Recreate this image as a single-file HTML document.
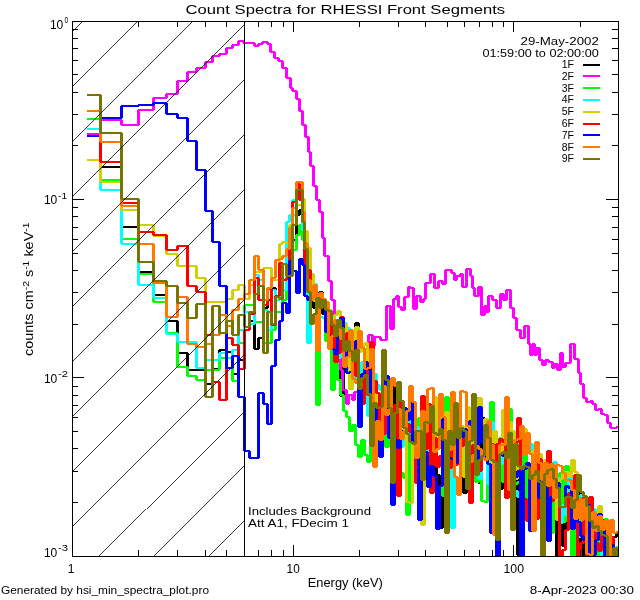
<!DOCTYPE html>
<html><head><meta charset="utf-8"><title>Count Spectra for RHESSI Front Segments</title>
<style>html,body{margin:0;padding:0;background:#fff;width:640px;height:600px;overflow:hidden}svg{display:block}</style>
</head><body><svg width="640" height="600" viewBox="0 0 640 600"><defs><clipPath id="clip"><rect x="72" y="21" width="547" height="536"/></clipPath></defs><g clip-path="url(#clip)" shape-rendering="crispEdges"><path fill="#000000" d="M87 118h14v2h-14zM99 119h3v48h-3zM100 166h22v2h-22zM120 167h3v60h-3zM121 226h18v2h-18zM137 227h3v45h-3zM138 271h16v2h-16zM152 272h3v23h-3zM153 294h14v2h-14zM165 295h3v26h-3zM166 320h12v2h-12zM176 321h3v32h-3zM177 352h11v2h-11zM186 353h3v17h-3zM187 369h10v2h-10zM196 369h10v2h-10zM204 370h3v14h-3zM205 383h8v2h-8zM211 369h3v15h-3zM212 368h8v2h-8zM218 350h3v19h-3zM219 349h8v2h-8zM225 350h3v2h-3zM226 351h7v2h-7zM231 352h3v22h-3zM232 373h7v2h-7zM237 360h3v14h-3zM238 359h7v2h-7zM243 327h3v33h-3zM244 326h6v2h-6zM248 321h3v6h-3zM249 320h6v2h-6zM253 321h3v28h-3zM254 348h5v2h-5zM257 338h3v11h-3zM258 337h6v2h-6zM262 308h3v30h-3zM263 307h5v2h-5zM266 300h3v8h-3zM267 299h5v2h-5zM270 288h3v12h-3zM271 287h5v2h-5zM274 288h3v12h-3zM275 299h5v2h-5zM278 290h3v10h-3zM279 289h4v2h-4zM281 280h3v10h-3zM282 279h5v2h-5zM285 270h3v10h-3zM286 269h4v2h-4zM288 253h3v17h-3zM289 252h4v2h-4zM291 240h3v13h-3zM292 239h5v2h-5zM295 215h3v25h-3zM296 214h4v2h-4zM298 210h3v5h-3zM299 209h4v2h-4zM301 210h3v26h-3zM302 235h3v2h-3zM303 236h3v14h-3zM304 249h4v2h-4zM306 250h3v20h-3zM307 269h4v2h-4zM309 270h3v20h-3zM310 289h4v2h-4zM312 290h3v18h-3zM313 307h4v2h-4zM315 308h3v16h-3zM316 323h4v2h-4zM318 292h3v32h-3zM319 291h4v2h-4zM321 292h3v22h-3zM322 313h4v2h-4zM324 314h3v13h-3zM325 326h4v2h-4zM327 327h3v7h-3zM328 333h4v2h-4zM330 334h3v2h-3zM331 335h4v2h-4zM333 336h3v3h-3zM334 338h4v2h-4zM336 339h3v13h-3zM337 351h4v2h-4zM339 352h3v44h-3zM340 395h4v2h-4zM342 326h3v70h-3zM343 325h4v2h-4zM345 326h3v3h-3zM346 328h4v2h-4zM348 329h3v50h-3zM349 378h4v2h-4zM351 374h3v5h-3zM352 373h4v2h-4zM354 323h3v51h-3zM355 322h4v2h-4zM357 323h3v72h-3zM358 394h4v2h-4zM360 384h3v11h-3zM361 383h4v2h-4zM363 384h3v8h-3zM364 391h4v2h-4zM366 383h3v9h-3zM367 382h4v2h-4zM369 383h3v1h-3zM370 383h4v2h-4zM372 384h3v32h-3zM373 415h4v2h-4zM375 416h3v6h-3zM376 421h4v2h-4zM378 422h3v13h-3zM379 434h4v2h-4zM381 406h3v29h-3zM382 405h4v2h-4zM385 405h4v2h-4zM387 391h3v15h-3zM388 390h4v2h-4zM390 384h3v7h-3zM391 383h4v2h-4zM393 384h3v39h-3zM394 422h4v2h-4zM396 417h3v6h-3zM397 416h4v2h-4zM399 417h3v22h-3zM400 438h4v2h-4zM402 425h3v14h-3zM403 424h4v2h-4zM405 415h3v10h-3zM406 414h4v2h-4zM408 415h3v26h-3zM409 440h4v2h-4zM411 412h3v29h-3zM412 411h4v2h-4zM414 412h3v34h-3zM415 445h4v2h-4zM417 445h3v1h-3zM418 444h4v2h-4zM420 425h3v20h-3zM421 424h4v2h-4zM423 425h3v5h-3zM424 429h4v2h-4zM426 430h3v54h-3zM427 483h4v2h-4zM429 445h3v39h-3zM430 444h4v2h-4zM432 445h3v4h-3zM433 448h4v2h-4zM435 449h3v26h-3zM436 474h4v2h-4zM438 475h3v53h-3zM439 527h4v2h-4zM441 451h3v77h-3zM442 450h4v2h-4zM444 451h3v69h-3zM445 519h4v2h-4zM447 520h3v1h-3zM448 520h4v2h-4zM450 447h3v74h-3zM451 446h4v2h-4zM453 407h3v40h-3zM454 406h4v2h-4zM456 407h3v31h-3zM457 437h4v2h-4zM459 438h3v15h-3zM460 452h4v2h-4zM462 453h3v40h-3zM463 492h4v2h-4zM465 480h3v13h-3zM466 479h4v2h-4zM468 440h3v40h-3zM469 439h4v2h-4zM471 440h3v37h-3zM472 476h4v2h-4zM474 453h3v24h-3zM475 452h4v2h-4zM477 453h3v30h-3zM478 482h4v2h-4zM480 418h3v65h-3zM481 417h4v2h-4zM483 418h3v14h-3zM484 431h4v2h-4zM486 432h3v32h-3zM487 463h4v2h-4zM489 445h3v19h-3zM490 444h4v2h-4zM492 445h3v2h-3zM493 446h4v2h-4zM495 447h3v18h-3zM496 464h4v2h-4zM498 465h3v24h-3zM499 488h4v2h-4zM501 479h3v10h-3zM502 478h4v2h-4zM504 456h3v23h-3zM505 455h4v2h-4zM507 456h3v10h-3zM508 465h4v2h-4zM510 452h3v14h-3zM511 451h4v2h-4zM513 452h3v12h-3zM514 463h4v2h-4zM516 464h3v91h-3zM517 554h4v2h-4zM519 483h3v72h-3zM520 482h4v2h-4zM522 483h3v4h-3zM523 486h4v2h-4zM525 487h3v16h-3zM526 502h4v2h-4zM528 503h3v4h-3zM529 506h4v2h-4zM531 507h3v8h-3zM532 514h4v2h-4zM534 477h3v38h-3zM535 476h4v2h-4zM537 461h3v16h-3zM538 460h4v2h-4zM540 461h3v34h-3zM541 494h4v2h-4zM543 467h3v28h-3zM544 466h4v2h-4zM546 467h3v1h-3zM547 467h4v2h-4zM549 468h3v44h-3zM550 511h4v2h-4zM552 512h3v6h-3zM553 517h4v2h-4zM555 518h3v38h-3zM556 555h4v2h-4zM558 489h3v67h-3zM559 488h4v2h-4zM561 489h3v57h-3zM562 545h4v2h-4zM564 511h3v35h-3zM565 510h4v2h-4zM567 469h3v42h-3zM568 468h4v2h-4zM570 469h3v81h-3zM571 549h4v2h-4zM573 528h3v22h-3zM574 527h4v2h-4zM576 490h3v38h-3zM577 489h4v2h-4zM579 490h3v70h-3zM580 559h4v2h-4zM582 506h3v54h-3zM583 505h4v2h-4zM585 506h3v18h-3zM586 523h4v2h-4zM588 519h3v5h-3zM589 518h4v2h-4zM591 519h3v41h-3zM592 559h4v2h-4zM594 528h3v32h-3zM595 527h4v2h-4zM597 528h3v32h-3zM598 559h4v2h-4zM600 550h3v10h-3zM601 549h4v2h-4zM603 545h3v5h-3zM604 544h4v2h-4zM606 545h3v15h-3zM607 559h4v2h-4zM609 554h3v6h-3zM610 553h4v2h-4zM612 537h3v17h-3zM613 536h4v2h-4zM615 533h3v4h-3zM616 532h2v2h-2z"/><path fill="#ff00ff" d="M87 133h14v2h-14zM99 120h3v14h-3zM100 119h22v2h-22zM120 120h3v5h-3zM121 124h18v2h-18zM137 110h3v15h-3zM138 109h16v2h-16zM152 98h3v12h-3zM153 97h14v2h-14zM165 94h3v4h-3zM166 93h12v2h-12zM176 81h3v13h-3zM177 80h11v2h-11zM186 72h3v9h-3zM187 71h10v2h-10zM195 68h3v4h-3zM196 67h10v2h-10zM204 62h3v6h-3zM205 61h8v2h-8zM211 56h3v6h-3zM212 55h8v2h-8zM218 54h3v2h-3zM219 53h8v2h-8zM225 48h3v6h-3zM226 47h7v2h-7zM231 45h3v3h-3zM232 44h7v2h-7zM237 41h3v4h-3zM238 40h6v2h-6zM242 41h3v2h-3zM243 42h12v2h-12zM253 43h3v3h-3zM254 45h5v2h-5zM257 44h3v2h-3zM258 43h5v2h-5zM261 42h3v2h-3zM262 41h6v2h-6zM266 42h3v2h-3zM267 43h4v2h-4zM269 44h3v8h-3zM270 51h5v2h-5zM273 52h3v6h-3zM274 57h5v2h-5zM277 58h3v3h-3zM278 60h5v2h-5zM281 61h3v7h-3zM282 67h5v2h-5zM285 68h3v10h-3zM286 77h5v2h-5zM289 78h3v10h-3zM290 87h3v2h-3zM291 88h3v3h-3zM292 90h5v2h-5zM295 91h3v8h-3zM296 98h4v2h-4zM298 99h3v12h-3zM299 110h4v2h-4zM301 111h3v14h-3zM302 124h4v2h-4zM304 125h3v12h-3zM305 136h4v2h-4zM307 137h3v15h-3zM308 151h3v2h-3zM309 152h3v14h-3zM310 165h4v2h-4zM312 166h3v20h-3zM313 185h4v2h-4zM315 186h3v14h-3zM316 199h4v2h-4zM318 200h3v12h-3zM319 211h4v2h-4zM321 212h3v26h-3zM322 237h3v2h-3zM323 238h3v18h-3zM324 255h5v2h-5zM327 256h3v25h-3zM328 280h4v2h-4zM330 281h3v19h-3zM331 299h4v2h-4zM333 300h3v20h-3zM334 319h3v2h-3zM335 320h3v25h-3zM336 344h5v2h-5zM339 345h3v25h-3zM340 369h3v2h-3zM341 370h3v20h-3zM342 389h5v2h-5zM345 390h3v14h-3zM346 403h3v2h-3zM347 395h3v9h-3zM348 394h5v2h-5zM351 395h3v5h-3zM352 399h3v2h-3zM353 392h3v8h-3zM354 391h5v2h-5zM357 392h3v6h-3zM358 397h3v2h-3zM359 380h3v18h-3zM360 379h4v2h-4zM362 365h3v15h-3zM363 364h4v2h-4zM365 349h3v16h-3zM366 348h3v2h-3zM367 335h3v14h-3zM368 334h5v2h-5zM371 335h3v11h-3zM372 345h3v2h-3zM373 337h3v9h-3zM374 336h7v2h-7zM379 337h3v3h-3zM380 339h7v2h-7zM385 306h3v34h-3zM386 305h5v2h-5zM389 306h3v23h-3zM390 328h4v2h-4zM392 299h3v30h-3zM393 298h4v2h-4zM395 296h3v3h-3zM396 295h3v2h-3zM397 296h3v11h-3zM398 306h4v2h-4zM400 307h3v3h-3zM401 309h4v2h-4zM403 297h3v13h-3zM404 296h5v2h-5zM407 287h3v10h-3zM408 286h3v2h-3zM409 287h3v1h-3zM410 287h4v2h-4zM412 288h3v21h-3zM413 308h4v2h-4zM415 296h3v13h-3zM416 295h5v2h-5zM419 296h3v6h-3zM420 301h4v2h-4zM422 299h3v3h-3zM423 298h3v2h-3zM424 283h3v16h-3zM425 282h6v2h-6zM429 274h3v9h-3zM430 273h5v2h-5zM433 274h3v14h-3zM434 287h5v2h-5zM437 281h3v7h-3zM438 280h5v2h-5zM441 281h3v3h-3zM442 283h4v2h-4zM444 270h3v14h-3zM445 269h7v2h-7zM450 270h3v3h-3zM451 272h4v2h-4zM453 273h3v7h-3zM454 279h3v2h-3zM455 276h3v4h-3zM456 275h5v2h-5zM459 274h3v2h-3zM460 273h3v2h-3zM461 274h3v13h-3zM462 286h5v2h-5zM465 269h3v18h-3zM466 268h5v2h-5zM469 269h3v7h-3zM470 275h3v2h-3zM471 276h3v12h-3zM472 287h3v2h-3zM473 288h3v8h-3zM474 295h5v2h-5zM477 287h3v9h-3zM478 286h4v2h-4zM480 287h3v28h-3zM481 314h4v2h-4zM483 306h3v9h-3zM484 305h3v2h-3zM485 306h3v6h-3zM486 311h3v2h-3zM487 296h3v16h-3zM488 295h5v2h-5zM491 296h3v4h-3zM492 299h5v2h-5zM495 300h3v8h-3zM496 307h5v2h-5zM499 294h3v14h-3zM500 293h4v2h-4zM502 294h3v6h-3zM503 299h4v2h-4zM505 290h3v10h-3zM506 289h5v2h-5zM509 290h3v18h-3zM510 307h4v2h-4zM512 308h3v10h-3zM513 317h4v2h-4zM515 318h3v12h-3zM516 329h5v2h-5zM519 330h3v8h-3zM520 337h5v2h-5zM523 326h3v12h-3zM524 325h5v2h-5zM527 326h3v18h-3zM528 343h3v2h-3zM529 344h3v11h-3zM530 354h3v2h-3zM531 344h3v11h-3zM532 343h3v2h-3zM533 344h3v11h-3zM534 354h3v2h-3zM535 348h3v7h-3zM536 347h4v2h-4zM538 348h3v12h-3zM539 359h4v2h-4zM541 360h3v5h-3zM542 364h4v2h-4zM544 360h3v5h-3zM545 359h4v2h-4zM547 360h3v2h-3zM548 361h5v2h-5zM551 362h3v6h-3zM552 367h3v2h-3zM553 364h3v4h-3zM554 363h4v2h-4zM556 364h3v6h-3zM557 369h4v2h-4zM559 353h3v17h-3zM560 352h3v2h-3zM561 353h3v14h-3zM562 366h4v2h-4zM564 363h3v4h-3zM565 362h6v2h-6zM569 344h3v19h-3zM570 343h5v2h-5zM573 344h3v15h-3zM574 358h5v2h-5zM577 359h3v14h-3zM578 372h3v2h-3zM579 373h3v11h-3zM580 383h4v2h-4zM582 384h3v14h-3zM583 397h4v2h-4zM585 398h3v4h-3zM586 401h5v2h-5zM589 401h3v1h-3zM590 400h3v2h-3zM591 401h3v3h-3zM592 403h4v2h-4zM594 404h3v6h-3zM595 409h4v2h-4zM597 409h3v1h-3zM598 408h4v2h-4zM600 409h3v5h-3zM601 413h4v2h-4zM603 414h3v1h-3zM604 414h4v2h-4zM606 415h3v8h-3zM607 422h4v2h-4zM609 423h3v5h-3zM610 427h7v2h-7zM615 427h3v1h-3zM616 426h2v2h-2z"/><path fill="#00ff00" d="M87 118h14v2h-14zM99 119h3v61h-3zM100 179h22v2h-22zM120 180h3v59h-3zM121 238h18v2h-18zM137 239h3v35h-3zM138 273h16v2h-16zM152 274h3v28h-3zM153 301h14v2h-14zM165 302h3v31h-3zM166 332h12v2h-12zM176 333h3v34h-3zM177 366h11v2h-11zM186 367h3v9h-3zM187 375h10v2h-10zM195 376h3v4h-3zM196 379h10v2h-10zM204 370h3v10h-3zM205 369h8v2h-8zM212 369h8v2h-8zM218 358h3v12h-3zM219 357h8v2h-8zM225 358h3v10h-3zM226 367h7v2h-7zM231 368h3v13h-3zM232 380h7v2h-7zM237 343h3v38h-3zM238 342h7v2h-7zM243 305h3v38h-3zM244 304h6v2h-6zM249 304h6v2h-6zM253 305h3v17h-3zM254 321h5v2h-5zM258 321h6v2h-6zM262 322h3v21h-3zM263 342h5v2h-5zM267 342h5v2h-5zM270 330h3v13h-3zM271 329h5v2h-5zM274 312h3v18h-3zM275 311h5v2h-5zM279 311h4v2h-4zM281 300h3v12h-3zM282 299h5v2h-5zM285 290h3v10h-3zM286 289h4v2h-4zM288 270h3v20h-3zM289 269h4v2h-4zM291 250h3v20h-3zM292 249h5v2h-5zM295 235h3v15h-3zM296 234h4v2h-4zM298 225h3v10h-3zM299 224h4v2h-4zM301 225h3v15h-3zM302 239h3v2h-3zM303 240h3v20h-3zM304 259h4v2h-4zM306 260h3v20h-3zM307 279h4v2h-4zM309 280h3v20h-3zM310 299h4v2h-4zM312 287h3v13h-3zM313 286h4v2h-4zM315 287h3v118h-3zM316 404h4v2h-4zM318 298h3v107h-3zM319 297h4v2h-4zM321 298h3v8h-3zM322 305h4v2h-4zM324 306h3v35h-3zM325 340h4v2h-4zM327 328h3v13h-3zM328 327h4v2h-4zM330 328h3v62h-3zM331 389h4v2h-4zM333 326h3v64h-3zM334 325h4v2h-4zM336 326h3v54h-3zM337 379h4v2h-4zM339 380h3v15h-3zM340 394h4v2h-4zM342 395h3v16h-3zM343 410h4v2h-4zM345 411h3v6h-3zM346 416h4v2h-4zM348 417h3v14h-3zM349 430h4v2h-4zM351 425h3v6h-3zM352 424h4v2h-4zM354 425h3v20h-3zM355 444h4v2h-4zM357 445h3v12h-3zM358 456h4v2h-4zM360 440h3v17h-3zM361 439h4v2h-4zM363 440h3v15h-3zM364 454h4v2h-4zM366 455h3v7h-3zM367 461h4v2h-4zM369 403h3v59h-3zM370 402h4v2h-4zM372 382h3v21h-3zM373 381h4v2h-4zM375 382h3v33h-3zM376 414h4v2h-4zM378 415h3v23h-3zM379 437h4v2h-4zM381 392h3v46h-3zM382 391h4v2h-4zM384 392h3v55h-3zM385 446h4v2h-4zM387 418h3v29h-3zM388 417h4v2h-4zM390 418h3v52h-3zM391 469h4v2h-4zM393 417h3v53h-3zM394 416h4v2h-4zM396 417h3v19h-3zM397 435h4v2h-4zM399 436h3v37h-3zM400 472h4v2h-4zM402 473h3v5h-3zM403 477h4v2h-4zM405 478h3v37h-3zM406 514h4v2h-4zM408 425h3v90h-3zM409 424h4v2h-4zM411 425h3v17h-3zM412 441h4v2h-4zM414 442h3v1h-3zM415 442h4v2h-4zM417 418h3v25h-3zM418 417h4v2h-4zM420 416h3v2h-3zM421 415h4v2h-4zM423 416h3v65h-3zM424 480h4v2h-4zM426 450h3v31h-3zM427 449h4v2h-4zM429 434h3v16h-3zM430 433h4v2h-4zM432 415h3v19h-3zM433 414h4v2h-4zM435 415h3v24h-3zM436 438h4v2h-4zM438 421h3v18h-3zM439 420h4v2h-4zM441 421h3v75h-3zM442 495h4v2h-4zM444 397h3v99h-3zM445 396h4v2h-4zM447 397h3v52h-3zM448 448h4v2h-4zM450 415h3v34h-3zM451 414h4v2h-4zM453 415h3v15h-3zM454 429h4v2h-4zM456 410h3v20h-3zM457 409h4v2h-4zM459 410h3v49h-3zM460 458h4v2h-4zM462 459h3v18h-3zM463 476h4v2h-4zM465 435h3v42h-3zM466 434h4v2h-4zM468 435h3v10h-3zM469 444h4v2h-4zM471 445h3v3h-3zM472 447h4v2h-4zM474 448h3v34h-3zM475 481h4v2h-4zM477 468h3v14h-3zM478 467h4v2h-4zM480 468h3v33h-3zM481 500h4v2h-4zM483 501h3v1h-3zM484 501h4v2h-4zM486 432h3v70h-3zM487 431h4v2h-4zM489 402h3v30h-3zM490 401h4v2h-4zM492 402h3v34h-3zM493 435h4v2h-4zM495 436h3v10h-3zM496 445h4v2h-4zM498 438h3v8h-3zM499 437h4v2h-4zM501 438h3v44h-3zM502 481h4v2h-4zM504 467h3v15h-3zM505 466h4v2h-4zM507 409h3v58h-3zM508 408h4v2h-4zM510 409h3v52h-3zM511 460h4v2h-4zM513 461h3v23h-3zM514 483h4v2h-4zM516 482h3v2h-3zM517 481h4v2h-4zM519 482h3v76h-3zM520 557h4v2h-4zM522 455h3v103h-3zM523 454h4v2h-4zM525 455h3v57h-3zM526 511h4v2h-4zM528 492h3v20h-3zM529 491h4v2h-4zM531 492h3v7h-3zM532 498h4v2h-4zM534 468h3v31h-3zM535 467h4v2h-4zM537 468h3v19h-3zM538 486h4v2h-4zM540 487h3v14h-3zM541 500h4v2h-4zM543 501h3v27h-3zM544 527h4v2h-4zM546 487h3v41h-3zM547 486h4v2h-4zM549 487h3v46h-3zM550 532h4v2h-4zM552 492h3v41h-3zM553 491h4v2h-4zM555 492h3v15h-3zM556 506h4v2h-4zM558 473h3v34h-3zM559 472h4v2h-4zM561 473h3v49h-3zM562 521h4v2h-4zM564 466h3v56h-3zM565 465h4v2h-4zM567 466h3v63h-3zM568 528h4v2h-4zM570 529h3v30h-3zM571 558h4v2h-4zM573 480h3v79h-3zM574 479h4v2h-4zM576 480h3v35h-3zM577 514h4v2h-4zM579 497h3v18h-3zM580 496h4v2h-4zM582 497h3v8h-3zM583 504h4v2h-4zM585 505h3v14h-3zM586 518h4v2h-4zM588 497h3v22h-3zM589 496h4v2h-4zM591 497h3v48h-3zM592 544h4v2h-4zM594 545h3v15h-3zM595 559h4v2h-4zM597 524h3v36h-3zM598 523h4v2h-4zM600 524h3v36h-3zM601 559h4v2h-4zM603 519h3v41h-3zM604 518h4v2h-4zM606 519h3v15h-3zM607 533h4v2h-4zM609 534h3v26h-3zM610 559h4v2h-4zM613 559h4v2h-4zM615 547h3v13h-3zM616 546h2v2h-2z"/><path fill="#00ffff" d="M87 128h14v2h-14zM99 129h3v61h-3zM100 189h22v2h-22zM120 190h3v54h-3zM121 243h18v2h-18zM137 244h3v41h-3zM138 284h16v2h-16zM152 285h3v13h-3zM153 297h14v2h-14zM165 298h3v36h-3zM166 333h12v2h-12zM176 334h3v8h-3zM177 341h11v2h-11zM187 341h10v2h-10zM195 342h3v26h-3zM196 367h10v2h-10zM204 360h3v8h-3zM205 359h8v2h-8zM212 359h8v2h-8zM218 353h3v7h-3zM219 352h8v2h-8zM225 353h3v5h-3zM226 357h7v2h-7zM231 350h3v8h-3zM232 349h7v2h-7zM237 330h3v20h-3zM238 329h7v2h-7zM243 312h3v18h-3zM244 311h6v2h-6zM248 312h3v12h-3zM249 323h6v2h-6zM253 275h3v49h-3zM254 274h5v2h-5zM257 275h3v5h-3zM258 279h6v2h-6zM262 280h3v30h-3zM263 309h5v2h-5zM266 310h3v20h-3zM267 329h5v2h-5zM270 290h3v40h-3zM271 289h5v2h-5zM274 290h3v10h-3zM275 299h5v2h-5zM278 295h3v5h-3zM279 294h4v2h-4zM281 290h3v5h-3zM282 289h5v2h-5zM285 222h3v68h-3zM286 221h4v2h-4zM288 215h3v7h-3zM289 214h4v2h-4zM291 200h3v15h-3zM292 199h5v2h-5zM295 183h3v17h-3zM296 182h4v2h-4zM298 183h3v17h-3zM299 199h4v2h-4zM301 200h3v30h-3zM302 229h3v2h-3zM303 230h3v20h-3zM304 249h4v2h-4zM306 250h3v93h-3zM307 342h4v2h-4zM309 300h3v43h-3zM310 299h4v2h-4zM312 284h3v16h-3zM313 283h4v2h-4zM315 284h3v17h-3zM316 300h4v2h-4zM318 301h3v16h-3zM319 316h4v2h-4zM321 317h3v1h-3zM322 317h4v2h-4zM324 318h3v1h-3zM325 318h4v2h-4zM327 311h3v8h-3zM328 310h4v2h-4zM330 311h3v22h-3zM331 332h4v2h-4zM333 333h3v10h-3zM334 342h4v2h-4zM336 343h3v15h-3zM337 357h4v2h-4zM339 318h3v40h-3zM340 317h4v2h-4zM342 318h3v5h-3zM343 322h4v2h-4zM345 323h3v5h-3zM346 327h4v2h-4zM348 328h3v52h-3zM349 379h4v2h-4zM352 379h4v2h-4zM354 372h3v8h-3zM355 371h4v2h-4zM357 372h3v23h-3zM358 394h4v2h-4zM360 362h3v33h-3zM361 361h4v2h-4zM363 362h3v13h-3zM364 374h4v2h-4zM366 375h3v41h-3zM367 415h4v2h-4zM369 366h3v50h-3zM370 365h4v2h-4zM372 366h3v8h-3zM373 373h4v2h-4zM375 374h3v11h-3zM376 384h4v2h-4zM378 385h3v5h-3zM379 389h4v2h-4zM381 390h3v12h-3zM382 401h4v2h-4zM384 387h3v15h-3zM385 386h4v2h-4zM387 387h3v20h-3zM388 406h4v2h-4zM390 407h3v17h-3zM391 423h4v2h-4zM393 424h3v18h-3zM394 441h4v2h-4zM396 423h3v19h-3zM397 422h4v2h-4zM399 423h3v24h-3zM400 446h4v2h-4zM402 432h3v15h-3zM403 431h4v2h-4zM405 410h3v22h-3zM406 409h4v2h-4zM408 410h3v23h-3zM409 432h4v2h-4zM411 405h3v28h-3zM412 404h4v2h-4zM414 405h3v22h-3zM415 426h4v2h-4zM417 427h3v33h-3zM418 459h4v2h-4zM420 460h3v14h-3zM421 473h4v2h-4zM423 421h3v53h-3zM424 420h4v2h-4zM426 421h3v54h-3zM427 474h4v2h-4zM429 435h3v40h-3zM430 434h4v2h-4zM432 411h3v24h-3zM433 410h4v2h-4zM436 410h4v2h-4zM438 411h3v16h-3zM439 426h4v2h-4zM441 427h3v17h-3zM442 443h4v2h-4zM444 431h3v13h-3zM445 430h4v2h-4zM447 431h3v14h-3zM448 444h4v2h-4zM450 445h3v83h-3zM451 527h4v2h-4zM453 455h3v73h-3zM454 454h4v2h-4zM456 437h3v18h-3zM457 436h4v2h-4zM459 437h3v15h-3zM460 451h4v2h-4zM462 450h3v2h-3zM463 449h4v2h-4zM465 450h3v2h-3zM466 451h4v2h-4zM468 452h3v7h-3zM469 458h4v2h-4zM471 450h3v9h-3zM472 449h4v2h-4zM474 398h3v52h-3zM475 397h4v2h-4zM477 398h3v81h-3zM478 478h4v2h-4zM480 450h3v29h-3zM481 449h4v2h-4zM483 450h3v6h-3zM484 455h4v2h-4zM486 456h3v28h-3zM487 483h4v2h-4zM489 422h3v62h-3zM490 421h4v2h-4zM492 422h3v33h-3zM493 454h4v2h-4zM495 455h3v16h-3zM496 470h4v2h-4zM498 464h3v7h-3zM499 463h4v2h-4zM501 418h3v46h-3zM502 417h4v2h-4zM504 418h3v65h-3zM505 482h4v2h-4zM507 465h3v18h-3zM508 464h4v2h-4zM510 465h3v9h-3zM511 473h4v2h-4zM513 474h3v17h-3zM514 490h4v2h-4zM516 491h3v6h-3zM517 496h4v2h-4zM519 442h3v55h-3zM520 441h4v2h-4zM522 442h3v7h-3zM523 448h4v2h-4zM525 441h3v8h-3zM526 440h4v2h-4zM528 441h3v3h-3zM529 443h4v2h-4zM531 444h3v26h-3zM532 469h4v2h-4zM534 470h3v35h-3zM535 504h4v2h-4zM537 462h3v43h-3zM538 461h4v2h-4zM540 462h3v17h-3zM541 478h4v2h-4zM543 479h3v1h-3zM544 479h4v2h-4zM546 480h3v27h-3zM547 506h4v2h-4zM549 488h3v19h-3zM550 487h4v2h-4zM552 462h3v26h-3zM553 461h4v2h-4zM555 462h3v16h-3zM556 477h4v2h-4zM558 478h3v45h-3zM559 522h4v2h-4zM561 505h3v18h-3zM562 504h4v2h-4zM564 505h3v10h-3zM565 514h4v2h-4zM567 473h3v42h-3zM568 472h4v2h-4zM570 473h3v40h-3zM571 512h4v2h-4zM573 500h3v13h-3zM574 499h4v2h-4zM576 500h3v37h-3zM577 536h4v2h-4zM579 495h3v42h-3zM580 494h4v2h-4zM582 495h3v26h-3zM583 520h4v2h-4zM585 521h3v1h-3zM586 521h4v2h-4zM588 522h3v21h-3zM589 542h4v2h-4zM591 509h3v34h-3zM592 508h4v2h-4zM594 509h3v5h-3zM595 513h4v2h-4zM597 511h3v3h-3zM598 510h4v2h-4zM600 511h3v46h-3zM601 556h4v2h-4zM603 556h3v1h-3zM604 555h4v2h-4zM606 540h3v16h-3zM607 539h4v2h-4zM609 540h3v20h-3zM610 559h4v2h-4zM613 559h4v2h-4zM616 559h2v2h-2z"/><path fill="#d2d000" d="M87 159h14v2h-14zM99 160h3v22h-3zM100 181h22v2h-22zM120 182h3v28h-3zM121 209h18v2h-18zM137 210h3v15h-3zM138 224h16v2h-16zM152 225h3v11h-3zM153 235h14v2h-14zM165 236h3v18h-3zM166 253h12v2h-12zM176 254h3v12h-3zM177 265h11v2h-11zM187 265h10v2h-10zM195 266h3v12h-3zM196 277h10v2h-10zM204 278h3v24h-3zM205 301h8v2h-8zM212 301h8v2h-8zM219 301h8v2h-8zM225 299h3v3h-3zM226 298h7v2h-7zM231 290h3v9h-3zM232 289h7v2h-7zM237 285h3v5h-3zM238 284h7v2h-7zM243 285h3v14h-3zM244 298h6v2h-6zM248 285h3v14h-3zM249 284h6v2h-6zM253 272h3v13h-3zM254 271h5v2h-5zM258 271h6v2h-6zM262 268h3v4h-3zM263 267h5v2h-5zM267 267h5v2h-5zM270 268h3v12h-3zM271 279h5v2h-5zM275 279h5v2h-5zM278 244h3v36h-3zM279 243h4v2h-4zM281 242h3v2h-3zM282 241h5v2h-5zM285 242h3v1h-3zM286 242h4v2h-4zM288 225h3v18h-3zM289 224h4v2h-4zM291 215h3v10h-3zM292 214h5v2h-5zM295 205h3v10h-3zM296 204h4v2h-4zM299 204h4v2h-4zM301 199h3v6h-3zM302 198h3v2h-3zM303 199h3v32h-3zM304 230h4v2h-4zM306 231h3v17h-3zM307 247h4v2h-4zM309 248h3v26h-3zM310 273h4v2h-4zM312 274h3v27h-3zM313 300h4v2h-4zM315 301h3v5h-3zM316 305h4v2h-4zM318 306h3v1h-3zM319 306h4v2h-4zM321 304h3v3h-3zM322 303h4v2h-4zM324 304h3v11h-3zM325 314h4v2h-4zM327 310h3v5h-3zM328 309h4v2h-4zM330 310h3v18h-3zM331 327h4v2h-4zM333 315h3v13h-3zM334 314h4v2h-4zM336 311h3v4h-3zM337 310h4v2h-4zM339 311h3v11h-3zM340 321h4v2h-4zM342 322h3v2h-3zM343 323h4v2h-4zM345 324h3v12h-3zM346 335h4v2h-4zM348 336h3v53h-3zM349 388h4v2h-4zM351 353h3v36h-3zM352 352h4v2h-4zM354 327h3v26h-3zM355 326h4v2h-4zM357 327h3v25h-3zM358 351h4v2h-4zM360 346h3v6h-3zM361 345h4v2h-4zM363 343h3v3h-3zM364 342h4v2h-4zM366 343h3v22h-3zM367 364h4v2h-4zM369 360h3v5h-3zM370 359h4v2h-4zM372 360h3v59h-3zM373 418h4v2h-4zM375 394h3v25h-3zM376 393h4v2h-4zM378 394h3v11h-3zM379 404h4v2h-4zM381 376h3v29h-3zM382 375h4v2h-4zM384 376h3v21h-3zM385 396h4v2h-4zM387 380h3v17h-3zM388 379h4v2h-4zM390 380h3v29h-3zM391 408h4v2h-4zM393 408h3v1h-3zM394 407h4v2h-4zM396 401h3v7h-3zM397 400h4v2h-4zM399 401h3v14h-3zM400 414h4v2h-4zM402 415h3v15h-3zM403 429h4v2h-4zM405 430h3v72h-3zM406 501h4v2h-4zM408 502h3v1h-3zM409 502h4v2h-4zM411 440h3v63h-3zM412 439h4v2h-4zM414 440h3v15h-3zM415 454h4v2h-4zM417 453h3v2h-3zM418 452h4v2h-4zM420 453h3v72h-3zM421 524h4v2h-4zM423 446h3v79h-3zM424 445h4v2h-4zM426 446h3v2h-3zM427 447h4v2h-4zM429 422h3v26h-3zM430 421h4v2h-4zM432 397h3v25h-3zM433 396h4v2h-4zM435 397h3v40h-3zM436 436h4v2h-4zM438 406h3v31h-3zM439 405h4v2h-4zM441 406h3v17h-3zM442 422h4v2h-4zM444 412h3v11h-3zM445 411h4v2h-4zM447 412h3v27h-3zM448 438h4v2h-4zM450 393h3v46h-3zM451 392h4v2h-4zM453 393h3v30h-3zM454 422h4v2h-4zM456 423h3v17h-3zM457 439h4v2h-4zM459 426h3v14h-3zM460 425h4v2h-4zM462 426h3v51h-3zM463 476h4v2h-4zM465 407h3v70h-3zM466 406h4v2h-4zM468 407h3v37h-3zM469 443h4v2h-4zM471 425h3v19h-3zM472 424h4v2h-4zM474 425h3v48h-3zM475 472h4v2h-4zM477 398h3v75h-3zM478 397h4v2h-4zM480 398h3v37h-3zM481 434h4v2h-4zM483 419h3v16h-3zM484 418h4v2h-4zM486 419h3v35h-3zM487 453h4v2h-4zM489 454h3v8h-3zM490 461h4v2h-4zM492 431h3v31h-3zM493 430h4v2h-4zM495 431h3v56h-3zM496 486h4v2h-4zM498 455h3v32h-3zM499 454h4v2h-4zM501 410h3v45h-3zM502 409h4v2h-4zM504 397h3v13h-3zM505 396h4v2h-4zM507 397h3v25h-3zM508 421h4v2h-4zM510 422h3v9h-3zM511 430h4v2h-4zM513 431h3v48h-3zM514 478h4v2h-4zM516 465h3v14h-3zM517 464h4v2h-4zM519 430h3v35h-3zM520 429h4v2h-4zM522 429h3v1h-3zM523 428h4v2h-4zM525 429h3v12h-3zM526 440h4v2h-4zM528 441h3v12h-3zM529 452h4v2h-4zM531 451h3v2h-3zM532 450h4v2h-4zM534 451h3v22h-3zM535 472h4v2h-4zM537 454h3v19h-3zM538 453h4v2h-4zM540 454h3v27h-3zM541 480h4v2h-4zM543 460h3v21h-3zM544 459h4v2h-4zM546 456h3v4h-3zM547 455h4v2h-4zM549 456h3v19h-3zM550 474h4v2h-4zM552 475h3v22h-3zM553 496h4v2h-4zM555 497h3v23h-3zM556 519h4v2h-4zM558 479h3v41h-3zM559 478h4v2h-4zM561 472h3v7h-3zM562 471h4v2h-4zM565 471h4v2h-4zM567 472h3v5h-3zM568 476h4v2h-4zM570 460h3v17h-3zM571 459h4v2h-4zM573 460h3v12h-3zM574 471h4v2h-4zM576 472h3v32h-3zM577 503h4v2h-4zM579 504h3v16h-3zM580 519h4v2h-4zM582 511h3v9h-3zM583 510h4v2h-4zM585 511h3v7h-3zM586 517h4v2h-4zM588 507h3v11h-3zM589 506h4v2h-4zM591 507h3v24h-3zM592 530h4v2h-4zM594 524h3v7h-3zM595 523h4v2h-4zM597 506h3v18h-3zM598 505h4v2h-4zM600 506h3v41h-3zM601 546h4v2h-4zM603 522h3v25h-3zM604 521h4v2h-4zM606 522h3v38h-3zM607 559h4v2h-4zM609 550h3v10h-3zM610 549h4v2h-4zM612 550h3v10h-3zM613 559h4v2h-4zM616 559h2v2h-2z"/><path fill="#ff0000" d="M87 110h14v2h-14zM99 111h3v51h-3zM100 161h22v2h-22zM120 162h3v41h-3zM121 202h18v2h-18zM137 203h3v29h-3zM138 231h16v2h-16zM152 232h3v3h-3zM153 234h14v2h-14zM165 235h3v15h-3zM166 249h12v2h-12zM176 246h3v4h-3zM177 245h11v2h-11zM186 246h3v40h-3zM187 285h10v2h-10zM195 286h3v6h-3zM196 291h10v2h-10zM204 292h3v43h-3zM205 334h8v2h-8zM211 335h3v47h-3zM212 381h8v2h-8zM218 382h3v18h-3zM219 399h8v2h-8zM225 338h3v62h-3zM226 337h7v2h-7zM231 338h3v7h-3zM232 344h7v2h-7zM237 345h3v24h-3zM238 368h7v2h-7zM243 330h3v39h-3zM244 329h6v2h-6zM248 314h3v16h-3zM249 313h6v2h-6zM253 278h3v36h-3zM254 277h5v2h-5zM257 278h3v22h-3zM258 299h6v2h-6zM262 300h3v5h-3zM263 304h5v2h-5zM266 289h3v16h-3zM267 288h5v2h-5zM270 289h3v36h-3zM271 324h5v2h-5zM274 296h3v29h-3zM275 295h5v2h-5zM278 263h3v33h-3zM279 262h4v2h-4zM281 263h3v17h-3zM282 279h5v2h-5zM285 278h3v2h-3zM286 277h4v2h-4zM288 250h3v28h-3zM289 249h4v2h-4zM291 202h3v48h-3zM292 201h5v2h-5zM295 184h3v18h-3zM296 183h4v2h-4zM298 184h3v16h-3zM299 199h4v2h-4zM301 200h3v12h-3zM302 211h3v2h-3zM303 212h3v53h-3zM304 264h4v2h-4zM306 265h3v5h-3zM307 269h4v2h-4zM309 270h3v18h-3zM310 287h4v2h-4zM312 288h3v2h-3zM313 289h4v2h-4zM315 290h3v9h-3zM316 298h4v2h-4zM318 295h3v4h-3zM319 294h4v2h-4zM321 295h3v6h-3zM322 300h4v2h-4zM324 301h3v25h-3zM325 325h4v2h-4zM327 319h3v7h-3zM328 318h4v2h-4zM330 319h3v17h-3zM331 335h4v2h-4zM333 336h3v26h-3zM334 361h4v2h-4zM336 353h3v9h-3zM337 352h4v2h-4zM339 317h3v36h-3zM340 316h4v2h-4zM342 317h3v42h-3zM343 358h4v2h-4zM345 333h3v26h-3zM346 332h4v2h-4zM348 333h3v9h-3zM349 341h4v2h-4zM351 342h3v5h-3zM352 346h4v2h-4zM354 347h3v29h-3zM355 375h4v2h-4zM357 376h3v30h-3zM358 405h4v2h-4zM360 404h3v2h-3zM361 403h4v2h-4zM363 369h3v35h-3zM364 368h4v2h-4zM366 369h3v26h-3zM367 394h4v2h-4zM369 342h3v53h-3zM370 341h4v2h-4zM372 342h3v39h-3zM373 380h4v2h-4zM375 381h3v12h-3zM376 392h4v2h-4zM378 393h3v37h-3zM379 429h4v2h-4zM381 430h3v4h-3zM382 433h4v2h-4zM384 401h3v33h-3zM385 400h4v2h-4zM387 401h3v14h-3zM388 414h4v2h-4zM390 415h3v1h-3zM391 415h4v2h-4zM393 405h3v11h-3zM394 404h4v2h-4zM396 405h3v91h-3zM397 495h4v2h-4zM399 401h3v95h-3zM400 400h4v2h-4zM402 401h3v17h-3zM403 417h4v2h-4zM405 418h3v6h-3zM406 423h4v2h-4zM408 424h3v8h-3zM409 431h4v2h-4zM411 410h3v22h-3zM412 409h4v2h-4zM414 410h3v73h-3zM415 482h4v2h-4zM417 436h3v47h-3zM418 435h4v2h-4zM420 396h3v40h-3zM421 395h4v2h-4zM423 396h3v53h-3zM424 448h4v2h-4zM426 404h3v45h-3zM427 403h4v2h-4zM429 404h3v89h-3zM430 492h4v2h-4zM432 438h3v55h-3zM433 437h4v2h-4zM435 438h3v29h-3zM436 466h4v2h-4zM438 456h3v11h-3zM439 455h4v2h-4zM441 445h3v11h-3zM442 444h4v2h-4zM444 441h3v4h-3zM445 440h4v2h-4zM447 441h3v27h-3zM448 467h4v2h-4zM450 405h3v63h-3zM451 404h4v2h-4zM453 405h3v60h-3zM454 464h4v2h-4zM456 420h3v45h-3zM457 419h4v2h-4zM459 420h3v26h-3zM460 445h4v2h-4zM462 431h3v15h-3zM463 430h4v2h-4zM465 431h3v54h-3zM466 484h4v2h-4zM468 485h3v18h-3zM469 502h4v2h-4zM471 445h3v58h-3zM472 444h4v2h-4zM474 439h3v6h-3zM475 438h4v2h-4zM477 439h3v32h-3zM478 470h4v2h-4zM480 458h3v13h-3zM481 457h4v2h-4zM483 439h3v19h-3zM484 438h4v2h-4zM486 439h3v16h-3zM487 454h4v2h-4zM489 444h3v11h-3zM490 443h4v2h-4zM492 444h3v42h-3zM493 485h4v2h-4zM495 444h3v42h-3zM496 443h4v2h-4zM498 439h3v5h-3zM499 438h4v2h-4zM501 439h3v3h-3zM502 441h4v2h-4zM504 442h3v56h-3zM505 497h4v2h-4zM507 462h3v36h-3zM508 461h4v2h-4zM510 443h3v19h-3zM511 442h4v2h-4zM514 442h4v2h-4zM516 418h3v25h-3zM517 417h4v2h-4zM519 418h3v60h-3zM520 477h4v2h-4zM522 478h3v21h-3zM523 498h4v2h-4zM525 499h3v22h-3zM526 520h4v2h-4zM528 479h3v42h-3zM529 478h4v2h-4zM531 470h3v9h-3zM532 469h4v2h-4zM534 470h3v49h-3zM535 518h4v2h-4zM537 459h3v60h-3zM538 458h4v2h-4zM540 459h3v26h-3zM541 484h4v2h-4zM543 474h3v11h-3zM544 473h4v2h-4zM546 451h3v23h-3zM547 450h4v2h-4zM549 451h3v50h-3zM550 500h4v2h-4zM552 492h3v9h-3zM553 491h4v2h-4zM555 487h3v5h-3zM556 486h4v2h-4zM558 487h3v73h-3zM559 559h4v2h-4zM561 550h3v10h-3zM562 549h4v2h-4zM564 530h3v20h-3zM565 529h4v2h-4zM567 493h3v37h-3zM568 492h4v2h-4zM570 493h3v26h-3zM571 518h4v2h-4zM573 475h3v44h-3zM574 474h4v2h-4zM576 475h3v85h-3zM577 559h4v2h-4zM579 543h3v17h-3zM580 542h4v2h-4zM582 497h3v46h-3zM583 496h4v2h-4zM585 497h3v63h-3zM586 559h4v2h-4zM588 497h3v63h-3zM589 496h4v2h-4zM591 497h3v20h-3zM592 516h4v2h-4zM594 517h3v26h-3zM595 542h4v2h-4zM597 543h3v8h-3zM598 550h4v2h-4zM600 528h3v23h-3zM601 527h4v2h-4zM603 528h3v22h-3zM604 549h4v2h-4zM606 550h3v10h-3zM607 559h4v2h-4zM609 537h3v23h-3zM610 536h4v2h-4zM612 537h3v14h-3zM613 550h4v2h-4zM615 551h3v9h-3zM616 559h2v2h-2z"/><path fill="#0000ff" d="M87 135h14v2h-14zM99 118h3v18h-3zM100 117h22v2h-22zM120 106h3v12h-3zM121 105h18v2h-18zM137 105h3v1h-3zM138 104h16v2h-16zM152 103h3v2h-3zM153 102h14v2h-14zM165 103h3v11h-3zM166 113h12v2h-12zM176 114h3v4h-3zM177 117h11v2h-11zM186 118h3v23h-3zM187 140h10v2h-10zM195 141h3v29h-3zM196 169h10v2h-10zM204 170h3v41h-3zM205 210h8v2h-8zM211 211h3v31h-3zM212 241h8v2h-8zM218 242h3v44h-3zM219 285h8v2h-8zM225 286h3v82h-3zM226 367h7v2h-7zM231 356h3v12h-3zM232 355h7v2h-7zM237 356h3v41h-3zM238 396h7v2h-7zM243 397h3v54h-3zM244 450h6v2h-6zM248 451h3v7h-3zM249 457h6v2h-6zM254 457h5v2h-5zM257 393h3v65h-3zM258 392h6v2h-6zM262 393h3v11h-3zM263 403h5v2h-5zM266 404h3v20h-3zM267 423h5v2h-5zM270 366h3v58h-3zM271 365h5v2h-5zM274 340h3v26h-3zM275 339h5v2h-5zM278 321h3v19h-3zM279 320h4v2h-4zM281 303h3v18h-3zM282 302h5v2h-5zM285 303h3v10h-3zM286 312h4v2h-4zM288 261h3v52h-3zM289 260h4v2h-4zM291 261h3v10h-3zM292 270h5v2h-5zM295 271h3v22h-3zM296 292h4v2h-4zM298 259h3v34h-3zM299 258h4v2h-4zM301 259h3v6h-3zM302 264h3v2h-3zM303 265h3v31h-3zM304 295h4v2h-4zM306 296h3v4h-3zM307 299h4v2h-4zM309 300h3v20h-3zM310 319h4v2h-4zM312 320h3v2h-3zM313 321h4v2h-4zM315 318h3v4h-3zM316 317h4v2h-4zM318 304h3v14h-3zM319 303h4v2h-4zM321 304h3v3h-3zM322 306h4v2h-4zM324 307h3v25h-3zM325 331h4v2h-4zM327 332h3v4h-3zM328 335h4v2h-4zM330 336h3v13h-3zM331 348h4v2h-4zM333 349h3v5h-3zM334 353h4v2h-4zM336 325h3v29h-3zM337 324h4v2h-4zM339 318h3v7h-3zM340 317h4v2h-4zM342 318h3v32h-3zM343 349h4v2h-4zM345 350h3v23h-3zM346 372h4v2h-4zM348 372h3v1h-3zM349 371h4v2h-4zM351 355h3v17h-3zM352 354h4v2h-4zM354 341h3v14h-3zM355 340h4v2h-4zM357 341h3v86h-3zM358 426h4v2h-4zM360 374h3v53h-3zM361 373h4v2h-4zM363 362h3v12h-3zM364 361h4v2h-4zM366 362h3v7h-3zM367 368h4v2h-4zM369 369h3v32h-3zM370 400h4v2h-4zM372 401h3v2h-3zM373 402h4v2h-4zM375 403h3v38h-3zM376 440h4v2h-4zM378 441h3v16h-3zM379 456h4v2h-4zM381 392h3v65h-3zM382 391h4v2h-4zM384 376h3v16h-3zM385 375h4v2h-4zM387 376h3v62h-3zM388 437h4v2h-4zM390 438h3v67h-3zM391 504h4v2h-4zM393 440h3v65h-3zM394 439h4v2h-4zM396 440h3v8h-3zM397 447h4v2h-4zM399 419h3v29h-3zM400 418h4v2h-4zM402 408h3v11h-3zM403 407h4v2h-4zM405 408h3v12h-3zM406 419h4v2h-4zM408 389h3v31h-3zM409 388h4v2h-4zM411 389h3v53h-3zM412 441h4v2h-4zM414 442h3v9h-3zM415 450h4v2h-4zM417 451h3v69h-3zM418 519h4v2h-4zM420 471h3v49h-3zM421 470h4v2h-4zM423 452h3v19h-3zM424 451h4v2h-4zM426 452h3v35h-3zM427 486h4v2h-4zM429 466h3v21h-3zM430 465h4v2h-4zM432 466h3v10h-3zM433 475h4v2h-4zM435 476h3v53h-3zM436 528h4v2h-4zM438 486h3v43h-3zM439 485h4v2h-4zM441 419h3v67h-3zM442 418h4v2h-4zM444 419h3v88h-3zM445 506h4v2h-4zM447 458h3v49h-3zM448 457h4v2h-4zM450 458h3v1h-3zM451 458h4v2h-4zM453 459h3v4h-3zM454 462h4v2h-4zM456 417h3v46h-3zM457 416h4v2h-4zM459 417h3v20h-3zM460 436h4v2h-4zM462 429h3v8h-3zM463 428h4v2h-4zM465 429h3v46h-3zM466 474h4v2h-4zM468 421h3v54h-3zM469 420h4v2h-4zM471 421h3v8h-3zM472 428h4v2h-4zM474 429h3v36h-3zM475 464h4v2h-4zM477 407h3v58h-3zM478 406h4v2h-4zM480 407h3v36h-3zM481 442h4v2h-4zM483 443h3v13h-3zM484 455h4v2h-4zM486 456h3v8h-3zM487 463h4v2h-4zM489 464h3v69h-3zM490 532h4v2h-4zM492 470h3v63h-3zM493 469h4v2h-4zM495 470h3v86h-3zM496 555h4v2h-4zM498 454h3v102h-3zM499 453h4v2h-4zM501 454h3v2h-3zM502 455h4v2h-4zM504 456h3v2h-3zM505 457h4v2h-4zM507 458h3v20h-3zM508 477h4v2h-4zM510 478h3v16h-3zM511 493h4v2h-4zM513 477h3v17h-3zM514 476h4v2h-4zM516 471h3v6h-3zM517 470h4v2h-4zM519 471h3v85h-3zM520 555h4v2h-4zM522 469h3v87h-3zM523 468h4v2h-4zM525 463h3v6h-3zM526 462h4v2h-4zM528 463h3v68h-3zM529 530h4v2h-4zM531 482h3v49h-3zM532 481h4v2h-4zM534 476h3v6h-3zM535 475h4v2h-4zM537 476h3v22h-3zM538 497h4v2h-4zM540 467h3v31h-3zM541 466h4v2h-4zM544 466h4v2h-4zM546 467h3v74h-3zM547 540h4v2h-4zM549 497h3v44h-3zM550 496h4v2h-4zM552 497h3v1h-3zM553 497h4v2h-4zM555 483h3v15h-3zM556 482h4v2h-4zM558 483h3v24h-3zM559 506h4v2h-4zM562 506h4v2h-4zM564 486h3v21h-3zM565 485h4v2h-4zM567 486h3v2h-3zM568 487h4v2h-4zM570 488h3v41h-3zM571 528h4v2h-4zM573 510h3v19h-3zM574 509h4v2h-4zM576 510h3v12h-3zM577 521h4v2h-4zM579 522h3v14h-3zM580 535h4v2h-4zM582 536h3v4h-3zM583 539h4v2h-4zM585 505h3v35h-3zM586 504h4v2h-4zM588 505h3v54h-3zM589 558h4v2h-4zM591 555h3v4h-3zM592 554h4v2h-4zM594 540h3v15h-3zM595 539h4v2h-4zM597 514h3v26h-3zM598 513h4v2h-4zM600 514h3v6h-3zM601 519h4v2h-4zM603 520h3v40h-3zM604 559h4v2h-4zM606 521h3v39h-3zM607 520h4v2h-4zM609 521h3v24h-3zM610 544h4v2h-4zM612 545h3v15h-3zM613 559h4v2h-4zM616 559h2v2h-2z"/><path fill="#ff7800" d="M87 110h14v2h-14zM99 111h3v31h-3zM100 141h22v2h-22zM120 142h3v64h-3zM121 205h18v2h-18zM137 206h3v38h-3zM138 243h16v2h-16zM152 244h3v39h-3zM153 282h14v2h-14zM165 283h3v34h-3zM166 316h12v2h-12zM176 297h3v20h-3zM177 296h11v2h-11zM186 297h3v47h-3zM187 343h10v2h-10zM195 344h3v3h-3zM196 346h10v2h-10zM204 344h3v3h-3zM205 343h8v2h-8zM211 335h3v9h-3zM212 334h8v2h-8zM218 315h3v20h-3zM219 314h8v2h-8zM225 315h3v11h-3zM226 325h7v2h-7zM231 310h3v16h-3zM232 309h7v2h-7zM237 299h3v11h-3zM238 298h7v2h-7zM243 294h3v5h-3zM244 293h6v2h-6zM248 280h3v14h-3zM249 279h6v2h-6zM253 256h3v24h-3zM254 255h5v2h-5zM257 256h3v14h-3zM258 269h6v2h-6zM262 270h3v30h-3zM263 299h5v2h-5zM266 288h3v12h-3zM267 287h5v2h-5zM270 278h3v10h-3zM271 277h5v2h-5zM274 260h3v18h-3zM275 259h5v2h-5zM278 259h3v1h-3zM279 258h4v2h-4zM281 256h3v3h-3zM282 255h5v2h-5zM285 249h3v7h-3zM286 248h4v2h-4zM288 228h3v21h-3zM289 227h4v2h-4zM291 208h3v20h-3zM292 207h5v2h-5zM295 182h3v26h-3zM296 181h4v2h-4zM299 181h4v2h-4zM301 182h3v30h-3zM302 211h3v2h-3zM303 212h3v31h-3zM304 242h4v2h-4zM306 243h3v37h-3zM307 279h4v2h-4zM309 280h3v20h-3zM310 299h4v2h-4zM312 285h3v15h-3zM313 284h4v2h-4zM315 285h3v66h-3zM316 350h4v2h-4zM318 293h3v58h-3zM319 292h4v2h-4zM321 293h3v6h-3zM322 298h4v2h-4zM324 299h3v3h-3zM325 301h4v2h-4zM327 302h3v47h-3zM328 348h4v2h-4zM330 336h3v13h-3zM331 335h4v2h-4zM333 320h3v16h-3zM334 319h4v2h-4zM337 319h4v2h-4zM339 320h3v19h-3zM340 338h4v2h-4zM342 339h3v28h-3zM343 366h4v2h-4zM345 357h3v10h-3zM346 356h4v2h-4zM348 330h3v27h-3zM349 329h4v2h-4zM351 330h3v49h-3zM352 378h4v2h-4zM354 379h3v4h-3zM355 382h4v2h-4zM357 331h3v52h-3zM358 330h4v2h-4zM360 331h3v17h-3zM361 347h4v2h-4zM363 348h3v21h-3zM364 368h4v2h-4zM366 368h3v1h-3zM367 367h4v2h-4zM369 349h3v19h-3zM370 348h4v2h-4zM372 349h3v118h-3zM373 466h4v2h-4zM375 421h3v46h-3zM376 420h4v2h-4zM378 421h3v19h-3zM379 439h4v2h-4zM381 386h3v54h-3zM382 385h4v2h-4zM384 386h3v29h-3zM385 414h4v2h-4zM387 409h3v6h-3zM388 408h4v2h-4zM390 378h3v31h-3zM391 377h4v2h-4zM393 378h3v8h-3zM394 385h4v2h-4zM396 386h3v23h-3zM397 408h4v2h-4zM399 409h3v30h-3zM400 438h4v2h-4zM402 431h3v8h-3zM403 430h4v2h-4zM405 411h3v20h-3zM406 410h4v2h-4zM408 386h3v25h-3zM409 385h4v2h-4zM411 386h3v16h-3zM412 401h4v2h-4zM414 402h3v56h-3zM415 457h4v2h-4zM417 432h3v26h-3zM418 431h4v2h-4zM420 411h3v21h-3zM421 410h4v2h-4zM423 411h3v21h-3zM424 431h4v2h-4zM426 389h3v43h-3zM427 388h4v2h-4zM429 388h3v1h-3zM430 387h4v2h-4zM432 388h3v64h-3zM433 451h4v2h-4zM435 449h3v3h-3zM436 448h4v2h-4zM438 394h3v55h-3zM439 393h4v2h-4zM441 394h3v23h-3zM442 416h4v2h-4zM444 417h3v27h-3zM445 443h4v2h-4zM447 444h3v6h-3zM448 449h4v2h-4zM450 392h3v58h-3zM451 391h4v2h-4zM453 392h3v85h-3zM454 476h4v2h-4zM456 477h3v18h-3zM457 494h4v2h-4zM459 391h3v104h-3zM460 390h4v2h-4zM462 391h3v1h-3zM463 391h4v2h-4zM465 392h3v34h-3zM466 425h4v2h-4zM468 426h3v36h-3zM469 461h4v2h-4zM471 455h3v7h-3zM472 454h4v2h-4zM474 446h3v9h-3zM475 445h4v2h-4zM477 446h3v3h-3zM478 448h4v2h-4zM480 449h3v9h-3zM481 457h4v2h-4zM483 458h3v2h-3zM484 459h4v2h-4zM486 421h3v39h-3zM487 420h4v2h-4zM489 421h3v24h-3zM490 444h4v2h-4zM492 445h3v90h-3zM493 534h4v2h-4zM495 470h3v65h-3zM496 469h4v2h-4zM498 445h3v25h-3zM499 444h4v2h-4zM502 444h4v2h-4zM504 397h3v48h-3zM505 396h4v2h-4zM507 397h3v93h-3zM508 489h4v2h-4zM510 453h3v37h-3zM511 452h4v2h-4zM513 440h3v13h-3zM514 439h4v2h-4zM516 439h3v1h-3zM517 438h4v2h-4zM519 426h3v13h-3zM520 425h4v2h-4zM522 426h3v29h-3zM523 454h4v2h-4zM525 433h3v22h-3zM526 432h4v2h-4zM528 433h3v21h-3zM529 453h4v2h-4zM531 454h3v77h-3zM532 530h4v2h-4zM534 442h3v89h-3zM535 441h4v2h-4zM537 442h3v21h-3zM538 462h4v2h-4zM540 463h3v17h-3zM541 479h4v2h-4zM543 463h3v17h-3zM544 462h4v2h-4zM546 463h3v23h-3zM547 485h4v2h-4zM549 464h3v22h-3zM550 463h4v2h-4zM552 464h3v34h-3zM553 497h4v2h-4zM555 465h3v33h-3zM556 464h4v2h-4zM558 465h3v1h-3zM559 465h4v2h-4zM561 466h3v7h-3zM562 472h4v2h-4zM564 473h3v7h-3zM565 479h4v2h-4zM568 479h4v2h-4zM570 480h3v10h-3zM571 489h4v2h-4zM573 490h3v29h-3zM574 518h4v2h-4zM576 498h3v21h-3zM577 497h4v2h-4zM579 498h3v22h-3zM580 519h4v2h-4zM582 499h3v21h-3zM583 498h4v2h-4zM585 499h3v55h-3zM586 553h4v2h-4zM588 554h3v1h-3zM589 554h4v2h-4zM591 512h3v43h-3zM592 511h4v2h-4zM594 512h3v19h-3zM595 530h4v2h-4zM597 516h3v15h-3zM598 515h4v2h-4zM600 516h3v14h-3zM601 529h4v2h-4zM603 520h3v10h-3zM604 519h4v2h-4zM606 520h3v40h-3zM607 559h4v2h-4zM609 520h3v40h-3zM610 519h4v2h-4zM612 520h3v13h-3zM613 532h4v2h-4zM615 532h3v1h-3zM616 531h2v2h-2z"/><path fill="#787400" d="M87 94h14v2h-14zM99 95h3v38h-3zM100 132h22v2h-22zM120 133h3v66h-3zM121 198h18v2h-18zM137 199h3v63h-3zM138 261h16v2h-16zM152 262h3v19h-3zM153 280h14v2h-14zM165 281h3v5h-3zM166 285h12v2h-12zM176 286h3v17h-3zM177 302h11v2h-11zM186 303h3v15h-3zM187 317h10v2h-10zM195 304h3v14h-3zM196 303h10v2h-10zM204 304h3v93h-3zM205 396h8v2h-8zM211 306h3v91h-3zM212 305h8v2h-8zM218 306h3v27h-3zM219 332h8v2h-8zM225 321h3v12h-3zM226 320h7v2h-7zM231 321h3v14h-3zM232 334h7v2h-7zM237 315h3v20h-3zM238 314h7v2h-7zM243 315h3v12h-3zM244 326h6v2h-6zM248 312h3v15h-3zM249 311h6v2h-6zM253 294h3v18h-3zM254 293h5v2h-5zM257 286h3v8h-3zM258 285h6v2h-6zM262 286h3v67h-3zM263 352h5v2h-5zM266 312h3v41h-3zM267 311h5v2h-5zM270 312h3v12h-3zM271 323h5v2h-5zM274 297h3v27h-3zM275 296h5v2h-5zM278 297h3v2h-3zM279 298h4v2h-4zM281 264h3v35h-3zM282 263h5v2h-5zM285 264h3v12h-3zM286 275h4v2h-4zM289 275h4v2h-4zM291 225h3v51h-3zM292 224h5v2h-5zM295 190h3v35h-3zM296 189h4v2h-4zM299 189h4v2h-4zM301 190h3v32h-3zM302 221h3v2h-3zM303 222h3v27h-3zM304 248h4v2h-4zM306 249h3v43h-3zM307 291h4v2h-4zM309 292h3v32h-3zM310 323h4v2h-4zM312 314h3v10h-3zM313 313h4v2h-4zM315 298h3v16h-3zM316 297h4v2h-4zM318 298h3v10h-3zM319 307h4v2h-4zM321 300h3v8h-3zM322 299h4v2h-4zM324 300h3v10h-3zM325 309h4v2h-4zM327 310h3v1h-3zM328 310h4v2h-4zM330 311h3v14h-3zM331 324h4v2h-4zM333 325h3v11h-3zM334 335h4v2h-4zM336 320h3v16h-3zM337 319h4v2h-4zM339 320h3v8h-3zM340 327h4v2h-4zM342 328h3v23h-3zM343 350h4v2h-4zM345 341h3v10h-3zM346 340h4v2h-4zM348 341h3v10h-3zM349 350h4v2h-4zM351 351h3v10h-3zM352 360h4v2h-4zM354 350h3v11h-3zM355 349h4v2h-4zM357 350h3v39h-3zM358 388h4v2h-4zM360 378h3v11h-3zM361 377h4v2h-4zM363 375h3v3h-3zM364 374h4v2h-4zM366 375h3v19h-3zM367 393h4v2h-4zM369 394h3v52h-3zM370 445h4v2h-4zM372 403h3v43h-3zM373 402h4v2h-4zM375 403h3v5h-3zM376 407h4v2h-4zM378 407h3v1h-3zM379 406h4v2h-4zM381 350h3v57h-3zM382 349h4v2h-4zM384 350h3v30h-3zM385 379h4v2h-4zM387 380h3v28h-3zM388 407h4v2h-4zM390 408h3v75h-3zM391 482h4v2h-4zM393 413h3v70h-3zM394 412h4v2h-4zM396 382h3v31h-3zM397 381h4v2h-4zM399 382h3v19h-3zM400 400h4v2h-4zM402 401h3v27h-3zM403 427h4v2h-4zM405 428h3v6h-3zM406 433h4v2h-4zM408 434h3v8h-3zM409 441h4v2h-4zM411 442h3v2h-3zM412 443h4v2h-4zM414 431h3v13h-3zM415 430h4v2h-4zM418 430h4v2h-4zM420 431h3v49h-3zM421 479h4v2h-4zM423 422h3v58h-3zM424 421h4v2h-4zM426 422h3v1h-3zM427 422h4v2h-4zM429 406h3v17h-3zM430 405h4v2h-4zM432 406h3v27h-3zM433 432h4v2h-4zM435 433h3v2h-3zM436 434h4v2h-4zM438 429h3v6h-3zM439 428h4v2h-4zM441 429h3v11h-3zM442 439h4v2h-4zM444 440h3v93h-3zM445 532h4v2h-4zM447 431h3v102h-3zM448 430h4v2h-4zM450 431h3v14h-3zM451 444h4v2h-4zM453 403h3v42h-3zM454 402h4v2h-4zM456 403h3v35h-3zM457 437h4v2h-4zM459 428h3v10h-3zM460 427h4v2h-4zM462 428h3v3h-3zM463 430h4v2h-4zM465 431h3v58h-3zM466 488h4v2h-4zM468 441h3v48h-3zM469 440h4v2h-4zM471 394h3v47h-3zM472 393h4v2h-4zM474 394h3v81h-3zM475 474h4v2h-4zM477 460h3v15h-3zM478 459h4v2h-4zM480 456h3v4h-3zM481 455h4v2h-4zM483 425h3v31h-3zM484 424h4v2h-4zM486 425h3v13h-3zM487 437h4v2h-4zM489 438h3v22h-3zM490 459h4v2h-4zM492 460h3v2h-3zM493 461h4v2h-4zM495 462h3v78h-3zM496 539h4v2h-4zM498 454h3v86h-3zM499 453h4v2h-4zM501 452h3v2h-3zM502 451h4v2h-4zM504 452h3v6h-3zM505 457h4v2h-4zM507 433h3v25h-3zM508 432h4v2h-4zM510 433h3v97h-3zM511 529h4v2h-4zM513 444h3v86h-3zM514 443h4v2h-4zM516 444h3v22h-3zM517 465h4v2h-4zM519 466h3v3h-3zM520 468h4v2h-4zM522 466h3v3h-3zM523 465h4v2h-4zM525 466h3v1h-3zM526 466h4v2h-4zM528 467h3v12h-3zM529 478h4v2h-4zM531 475h3v4h-3zM532 474h4v2h-4zM534 471h3v4h-3zM535 470h4v2h-4zM537 471h3v11h-3zM538 481h4v2h-4zM540 482h3v74h-3zM541 555h4v2h-4zM543 474h3v82h-3zM544 473h4v2h-4zM546 470h3v4h-3zM547 469h4v2h-4zM549 469h3v1h-3zM550 468h4v2h-4zM552 469h3v10h-3zM553 478h4v2h-4zM555 479h3v9h-3zM556 487h4v2h-4zM558 488h3v19h-3zM559 506h4v2h-4zM562 506h4v2h-4zM564 497h3v10h-3zM565 496h4v2h-4zM568 496h4v2h-4zM570 497h3v11h-3zM571 507h4v2h-4zM573 500h3v8h-3zM574 499h4v2h-4zM576 475h3v25h-3zM577 474h4v2h-4zM579 475h3v17h-3zM580 491h4v2h-4zM582 492h3v4h-3zM583 495h4v2h-4zM585 496h3v10h-3zM586 505h4v2h-4zM588 506h3v15h-3zM589 520h4v2h-4zM591 521h3v7h-3zM592 527h4v2h-4zM594 526h3v2h-3zM595 525h4v2h-4zM597 526h3v5h-3zM598 530h4v2h-4zM600 531h3v4h-3zM601 534h4v2h-4zM603 535h3v1h-3zM604 535h4v2h-4zM606 536h3v24h-3zM607 559h4v2h-4zM610 559h4v2h-4zM612 548h3v12h-3zM613 547h4v2h-4zM615 548h3v12h-3zM616 559h2v2h-2z"/></g><g stroke="#000" stroke-width="0.8" fill="none" shape-rendering="crispEdges"><line x1="72.00" y1="31.70" x2="82.70" y2="21.00"/><line x1="72.00" y1="86.78" x2="137.78" y2="21.00"/><line x1="72.00" y1="141.86" x2="192.86" y2="21.00"/><line x1="72.00" y1="196.94" x2="244.00" y2="24.94"/><line x1="72.00" y1="252.02" x2="244.00" y2="80.02"/><line x1="72.00" y1="307.10" x2="244.00" y2="135.10"/><line x1="72.00" y1="362.18" x2="244.00" y2="190.18"/><line x1="72.00" y1="417.26" x2="244.00" y2="245.26"/><line x1="72.00" y1="472.34" x2="244.00" y2="300.34"/><line x1="72.00" y1="527.42" x2="244.00" y2="355.42"/><line x1="98.50" y1="556.00" x2="244.00" y2="410.50"/><line x1="153.58" y1="556.00" x2="244.00" y2="465.58"/><line x1="208.66" y1="556.00" x2="244.00" y2="520.66"/></g><line x1="244.5" y1="21" x2="244.5" y2="556" stroke="#000" stroke-width="1" shape-rendering="crispEdges"/><g stroke="#000" stroke-width="1" fill="none" shape-rendering="crispEdges"><rect x="72.5" y="21.5" width="546" height="535"/><line x1="72.5" y1="556" x2="72.5" y2="545"/><line x1="72.5" y1="21" x2="72.5" y2="32"/><line x1="138.5" y1="556" x2="138.5" y2="550"/><line x1="138.5" y1="21" x2="138.5" y2="27"/><line x1="177.5" y1="556" x2="177.5" y2="550"/><line x1="177.5" y1="21" x2="177.5" y2="27"/><line x1="205.5" y1="556" x2="205.5" y2="550"/><line x1="205.5" y1="21" x2="205.5" y2="27"/><line x1="226.5" y1="556" x2="226.5" y2="550"/><line x1="226.5" y1="21" x2="226.5" y2="27"/><line x1="244.5" y1="556" x2="244.5" y2="550"/><line x1="244.5" y1="21" x2="244.5" y2="27"/><line x1="258.5" y1="556" x2="258.5" y2="550"/><line x1="258.5" y1="21" x2="258.5" y2="27"/><line x1="271.5" y1="556" x2="271.5" y2="550"/><line x1="271.5" y1="21" x2="271.5" y2="27"/><line x1="283.5" y1="556" x2="283.5" y2="550"/><line x1="283.5" y1="21" x2="283.5" y2="27"/><line x1="293.5" y1="556" x2="293.5" y2="545"/><line x1="293.5" y1="21" x2="293.5" y2="32"/><line x1="359.5" y1="556" x2="359.5" y2="550"/><line x1="359.5" y1="21" x2="359.5" y2="27"/><line x1="398.5" y1="556" x2="398.5" y2="550"/><line x1="398.5" y1="21" x2="398.5" y2="27"/><line x1="425.5" y1="556" x2="425.5" y2="550"/><line x1="425.5" y1="21" x2="425.5" y2="27"/><line x1="447.5" y1="556" x2="447.5" y2="550"/><line x1="447.5" y1="21" x2="447.5" y2="27"/><line x1="464.5" y1="556" x2="464.5" y2="550"/><line x1="464.5" y1="21" x2="464.5" y2="27"/><line x1="479.5" y1="556" x2="479.5" y2="550"/><line x1="479.5" y1="21" x2="479.5" y2="27"/><line x1="492.5" y1="556" x2="492.5" y2="550"/><line x1="492.5" y1="21" x2="492.5" y2="27"/><line x1="503.5" y1="556" x2="503.5" y2="550"/><line x1="503.5" y1="21" x2="503.5" y2="27"/><line x1="513.5" y1="556" x2="513.5" y2="545"/><line x1="513.5" y1="21" x2="513.5" y2="32"/><line x1="580.5" y1="556" x2="580.5" y2="550"/><line x1="580.5" y1="21" x2="580.5" y2="27"/><line x1="72" y1="556.5" x2="84" y2="556.5"/><line x1="618" y1="556.5" x2="606" y2="556.5"/><line x1="72" y1="502.5" x2="78" y2="502.5"/><line x1="618" y1="502.5" x2="612" y2="502.5"/><line x1="72" y1="471.5" x2="78" y2="471.5"/><line x1="618" y1="471.5" x2="612" y2="471.5"/><line x1="72" y1="448.5" x2="78" y2="448.5"/><line x1="618" y1="448.5" x2="612" y2="448.5"/><line x1="72" y1="431.5" x2="78" y2="431.5"/><line x1="618" y1="431.5" x2="612" y2="431.5"/><line x1="72" y1="417.5" x2="78" y2="417.5"/><line x1="618" y1="417.5" x2="612" y2="417.5"/><line x1="72" y1="405.5" x2="78" y2="405.5"/><line x1="618" y1="405.5" x2="612" y2="405.5"/><line x1="72" y1="395.5" x2="78" y2="395.5"/><line x1="618" y1="395.5" x2="612" y2="395.5"/><line x1="72" y1="386.5" x2="78" y2="386.5"/><line x1="618" y1="386.5" x2="612" y2="386.5"/><line x1="72" y1="377.5" x2="84" y2="377.5"/><line x1="618" y1="377.5" x2="606" y2="377.5"/><line x1="72" y1="377.5" x2="84" y2="377.5"/><line x1="618" y1="377.5" x2="606" y2="377.5"/><line x1="72" y1="324.5" x2="78" y2="324.5"/><line x1="618" y1="324.5" x2="612" y2="324.5"/><line x1="72" y1="292.5" x2="78" y2="292.5"/><line x1="618" y1="292.5" x2="612" y2="292.5"/><line x1="72" y1="270.5" x2="78" y2="270.5"/><line x1="618" y1="270.5" x2="612" y2="270.5"/><line x1="72" y1="253.5" x2="78" y2="253.5"/><line x1="618" y1="253.5" x2="612" y2="253.5"/><line x1="72" y1="239.5" x2="78" y2="239.5"/><line x1="618" y1="239.5" x2="612" y2="239.5"/><line x1="72" y1="227.5" x2="78" y2="227.5"/><line x1="618" y1="227.5" x2="612" y2="227.5"/><line x1="72" y1="216.5" x2="78" y2="216.5"/><line x1="618" y1="216.5" x2="612" y2="216.5"/><line x1="72" y1="207.5" x2="78" y2="207.5"/><line x1="618" y1="207.5" x2="612" y2="207.5"/><line x1="72" y1="199.5" x2="84" y2="199.5"/><line x1="618" y1="199.5" x2="606" y2="199.5"/><line x1="72" y1="199.5" x2="84" y2="199.5"/><line x1="618" y1="199.5" x2="606" y2="199.5"/><line x1="72" y1="145.5" x2="78" y2="145.5"/><line x1="618" y1="145.5" x2="612" y2="145.5"/><line x1="72" y1="114.5" x2="78" y2="114.5"/><line x1="618" y1="114.5" x2="612" y2="114.5"/><line x1="72" y1="92.5" x2="78" y2="92.5"/><line x1="618" y1="92.5" x2="612" y2="92.5"/><line x1="72" y1="74.5" x2="78" y2="74.5"/><line x1="618" y1="74.5" x2="612" y2="74.5"/><line x1="72" y1="60.5" x2="78" y2="60.5"/><line x1="618" y1="60.5" x2="612" y2="60.5"/><line x1="72" y1="48.5" x2="78" y2="48.5"/><line x1="618" y1="48.5" x2="612" y2="48.5"/><line x1="72" y1="38.5" x2="78" y2="38.5"/><line x1="618" y1="38.5" x2="612" y2="38.5"/><line x1="72" y1="29.5" x2="78" y2="29.5"/><line x1="618" y1="29.5" x2="612" y2="29.5"/><line x1="72" y1="21.5" x2="84" y2="21.5"/><line x1="618" y1="21.5" x2="606" y2="21.5"/></g><g font-family='"Liberation Sans", "DejaVu Sans", sans-serif' fill="#000"><text x="185.6" y="14.4" font-size="13.5" text-anchor="start" textLength="319.6" lengthAdjust="spacingAndGlyphs">Count Spectra for RHESSI Front Segments</text><text x="49.9" y="28.7" font-size="12" text-anchor="start" textLength="13.4" lengthAdjust="spacingAndGlyphs">10</text><text x="43.9" y="203.7" font-size="12" text-anchor="start" textLength="13.4" lengthAdjust="spacingAndGlyphs">10</text><text x="43.9" y="382.7" font-size="12" text-anchor="start" textLength="13.4" lengthAdjust="spacingAndGlyphs">10</text><text x="43.9" y="556.7" font-size="12" text-anchor="start" textLength="13.4" lengthAdjust="spacingAndGlyphs">10</text><text x="64.6" y="22.7" font-size="8.5" text-anchor="start" textLength="3.7" lengthAdjust="spacingAndGlyphs">0</text><text x="58.1" y="198.9" font-size="8.5" text-anchor="start" textLength="9" lengthAdjust="spacingAndGlyphs">-1</text><text x="58.1" y="376.8" font-size="8.5" text-anchor="start" textLength="10" lengthAdjust="spacingAndGlyphs">-2</text><text x="58.1" y="550.7" font-size="8.5" text-anchor="start" textLength="10" lengthAdjust="spacingAndGlyphs">-3</text><text x="71" y="572.9" font-size="12" text-anchor="middle">1</text><text x="286.6" y="572.9" font-size="12" text-anchor="start" textLength="13.1" lengthAdjust="spacingAndGlyphs">10</text><text x="503.5" y="572.9" font-size="12" text-anchor="start" textLength="20.5" lengthAdjust="spacingAndGlyphs">100</text><text x="307.75" y="587" font-size="12.5" text-anchor="start" textLength="75" lengthAdjust="spacingAndGlyphs">Energy (keV)</text><g transform="translate(33.3,356) rotate(-90)"><text x="0" y="0" font-size="12.5" textLength="133.5" lengthAdjust="spacingAndGlyphs">counts cm<tspan dy="-4" font-size="9">-2</tspan><tspan dy="4"> s</tspan><tspan dy="-4" font-size="9">-1</tspan><tspan dy="4"> keV</tspan><tspan dy="-4" font-size="9">-1</tspan></text></g><text x="520.6" y="45.2" font-size="10.5" text-anchor="start" textLength="78.2" lengthAdjust="spacingAndGlyphs">29-May-2002</text><text x="482.4" y="56.8" font-size="10.5" text-anchor="start" textLength="116.4" lengthAdjust="spacingAndGlyphs">01:59:00 to 02:00:00</text><text x="574" y="68.2" font-size="10.5" text-anchor="end">1F</text><text x="574" y="79.96000000000001" font-size="10.5" text-anchor="end">2F</text><text x="574" y="91.72" font-size="10.5" text-anchor="end">3F</text><text x="574" y="103.48" font-size="10.5" text-anchor="end">4F</text><text x="574" y="115.24000000000001" font-size="10.5" text-anchor="end">5F</text><text x="574" y="127.0" font-size="10.5" text-anchor="end">6F</text><text x="574" y="138.76" font-size="10.5" text-anchor="end">7F</text><text x="574" y="150.51999999999998" font-size="10.5" text-anchor="end">8F</text><text x="574" y="162.28" font-size="10.5" text-anchor="end">9F</text><text x="248" y="515" font-size="11" text-anchor="start" textLength="123" lengthAdjust="spacingAndGlyphs">Includes Background</text><text x="248" y="527" font-size="11" text-anchor="start" textLength="101" lengthAdjust="spacingAndGlyphs">Att A1, FDecim 1</text><text x="1" y="593.6" font-size="10.3" text-anchor="start" textLength="208" lengthAdjust="spacingAndGlyphs">Generated by hsi_min_spectra_plot.pro</text><text x="529.8" y="594.1" font-size="10.3" text-anchor="start" textLength="104.2" lengthAdjust="spacingAndGlyphs">8-Apr-2023 00:30</text></g><rect x="583" y="64" width="17" height="2" fill="#000000"/><rect x="583" y="75" width="17" height="2" fill="#ff00ff"/><rect x="583" y="87" width="17" height="2" fill="#00ff00"/><rect x="583" y="99" width="17" height="2" fill="#00ffff"/><rect x="583" y="111" width="17" height="2" fill="#d2d000"/><rect x="583" y="123" width="17" height="2" fill="#ff0000"/><rect x="583" y="134" width="17" height="2" fill="#0000ff"/><rect x="583" y="146" width="17" height="2" fill="#ff7800"/><rect x="583" y="158" width="17" height="2" fill="#787400"/></svg></body></html>
